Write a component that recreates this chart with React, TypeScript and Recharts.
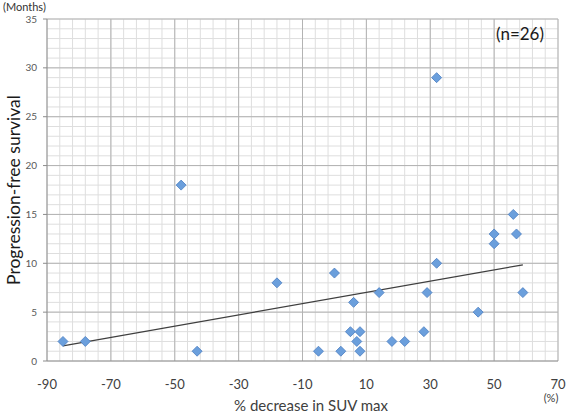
import React from "react";
import {
  ScatterChart,
  Scatter,
  XAxis,
  YAxis,
  ReferenceLine,
} from "recharts";

// % decrease in SUV max for each patient
const decrease = [-85, -78, -48, -43, -18, -5, 0, 2, 5, 6, 7, 8, 8, 14, 18, 22, 28, 29, 32, 32, 45, 50, 50, 56, 57, 59];
// progression-free survival in months (same order as above)
const pfs = [2, 2, 18, 1, 8, 1, 9, 1, 3, 6, 2, 1, 3, 7, 2, 2, 3, 7, 10, 29, 5, 13, 12, 15, 13, 7];

const xTicks = [-90, -70, -50, -30, -10, 10, 30, 50, 70];
const yTicks = [0, 5, 10, 15, 20, 25, 30, 35];

const points = decrease.map((x, i) => ({ x, y: pfs[i] }));

// minor grid every 4 % / 1 month
const minorX: number[] = [];
for (let v = -90; v <= 70; v += 4) minorX.push(v);
const minorY: number[] = [];
for (let v = 0; v <= 35; v += 1) minorY.push(v);

// least squares trend line
const n = points.length;
const mx = points.reduce((s, p) => s + p.x, 0) / n;
const my = points.reduce((s, p) => s + p.y, 0) / n;
const slope =
  points.reduce((s, p) => s + (p.x - mx) * (p.y - my), 0) /
  points.reduce((s, p) => s + (p.x - mx) ** 2, 0);
const xMin = Math.min(...decrease);
const xMax = Math.max(...decrease);
const trend = [
  { x: xMin, y: my + slope * (xMin - mx) },
  { x: xMax, y: my + slope * (xMax - mx) },
];

const FONT = "Lato, 'Open Sans', sans-serif";

const Diamond = (props: any) => {
  const { cx, cy } = props;
  const r = 5;
  return (
    <polygon
      points={`${cx},${cy - r} ${cx + r},${cy} ${cx},${cy + r} ${cx - r},${cy}`}
      fill="#6b9fdc"
      stroke="#4a7ec2"
      strokeWidth={0.8}
    />
  );
};

export default function App() {
  return (
    <div
      style={{
        position: "absolute",
        left: 0,
        top: 0,
        width: 567,
        height: 416,
        background: "#fff",
        fontFamily: FONT,
      }}
    >
      <ScatterChart
        width={567}
        height={416}
        margin={{ top: 19, right: 9, bottom: 0, left: 0 }}
      >
        <XAxis
          type="number"
          dataKey="x"
          domain={[-90, 70]}
          ticks={xTicks}
          interval={0}
          height={55}
          axisLine={{ stroke: "#8c8c8c" }}
          tickLine={false}
          tickMargin={13}
          tick={{ fontSize: 13, fill: "#404040", fontFamily: FONT }}
        />
        <YAxis
          type="number"
          dataKey="y"
          domain={[0, 35]}
          ticks={yTicks}
          interval={0}
          width={47}
          axisLine={{ stroke: "#8c8c8c" }}
          tickLine={{ stroke: "#8c8c8c" }}
          tickSize={4}
          tickMargin={6}
          tick={{ fontSize: 10, fill: "#595959", fontFamily: FONT }}
        />
        {minorX.map((v) => (
          <ReferenceLine key={`mx${v}`} x={v} stroke="#dedede" strokeWidth={1} />
        ))}
        {minorY.map((v) => (
          <ReferenceLine key={`my${v}`} y={v} stroke="#dedede" strokeWidth={1} />
        ))}
        {xTicks.slice(1).map((v) => (
          <ReferenceLine key={`Mx${v}`} x={v} stroke="#b3b3b3" strokeWidth={1} />
        ))}
        {yTicks.slice(1).map((v) => (
          <ReferenceLine key={`My${v}`} y={v} stroke="#b3b3b3" strokeWidth={1} />
        ))}
        <ReferenceLine segment={trend} stroke="#3f3f3f" strokeWidth={1.2} />
        <Scatter data={points} shape={<Diamond />} isAnimationActive={false} />
      </ScatterChart>
      <div style={{ position: "absolute", left: 3, top: 0, fontSize: 11, color: "#333", lineHeight: "13px", whiteSpace: "nowrap" }}>
        (Months)
      </div>
      <div
        style={{
          position: "absolute",
          left: 13,
          top: 190,
          transform: "translate(-50%, -50%) rotate(-90deg)",
          whiteSpace: "nowrap",
          fontSize: 17.5,
          color: "#1a1a1a",
        }}
      >
        Progression-free survival
      </div>
      <div
        style={{
          position: "absolute",
          left: 311,
          top: 405,
          transform: "translate(-50%, -50%)",
          whiteSpace: "nowrap",
          fontSize: 15,
          color: "#404040",
        }}
      >
        % decrease in SUV max
      </div>
      <div
        style={{
          position: "absolute",
          left: 551,
          top: 397,
          transform: "translate(-50%, -50%)",
          fontSize: 11,
          lineHeight: "13px",
          color: "#404040",
        }}
      >
        (%)
      </div>
      <div
        style={{
          position: "absolute",
          left: 520,
          top: 33,
          transform: "translate(-50%, -50%)",
          whiteSpace: "nowrap",
          fontSize: 17,
          color: "#1a1a1a",
        }}
      >
        (n=26)
      </div>
    </div>
  );
}
